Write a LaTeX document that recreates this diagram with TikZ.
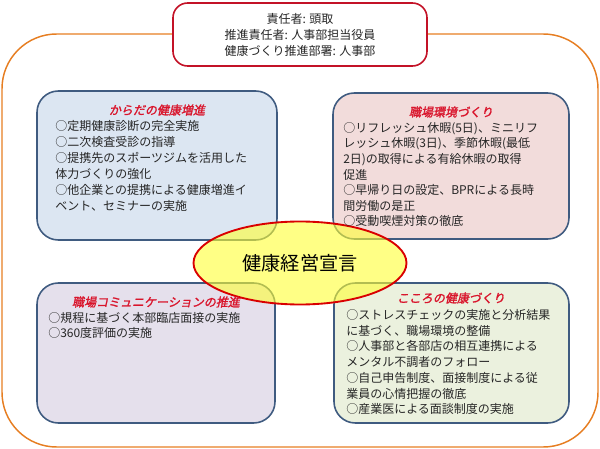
\documentclass[tikz,border=0pt]{standalone}
\usepackage{fontspec}
\setmainfont{Noto Sans CJK JP}
\newfontfamily\titlefont[FakeSlant=0.2,FakeBold=1.5]{Noto Sans CJK JP}
\usetikzlibrary{positioning, fit, shapes.geometric}
\definecolor{hmorange}{HTML}{E67E22}
\definecolor{hmred}{HTML}{D9142B}
\definecolor{hmslate}{HTML}{3F5B80}
\definecolor{hmtext}{HTML}{262626}
\definecolor{hmblue}{HTML}{DCE6F2}
\definecolor{hmpink}{HTML}{F2DCDB}
\definecolor{hmlilac}{HTML}{E5E0EC}
\definecolor{hmgreen}{HTML}{EBF1DE}
\definecolor{hmyellow}{HTML}{FFFF33}
\tikzset{
  area/.style={
    draw=hmslate, line width=1.2pt, rounded corners=16pt, inner sep=0pt},
  heading/.style={
    font=\titlefont\fontsize{9}{12}\selectfont, color=hmred, inner sep=0pt},
  items/.style={
    font=\fontsize{9}{12}\selectfont, color=hmtext, align=left,
    anchor=north west, inner sep=0pt},
}

\begin{document}
\begin{tikzpicture}[x=0.75pt, y=-0.75pt,
    lead/.style={draw=hmred!90!black, line width=1.2pt, fill=white,
      rounded corners=11pt, align=center, inner sep=0pt,
      font=\fontsize{9}{12}\selectfont, text=hmtext,
      minimum width=190.5pt, minimum height=47.25pt},
    pledge/.style={ellipse, draw=red!85!black, line width=1.4pt,
      fill=hmyellow, fill opacity=.6, text opacity=1, inner sep=0pt,
      minimum width=159.75pt, minimum height=62.25pt,
      font=\fontsize{14.4}{16}\selectfont}]
  \useasboundingbox (0,0) rectangle (600,449);
  % frame round everything
  \node[draw=hmorange, line width=1.1pt, rounded corners=41pt, inner sep=0pt,
        fit={(2,34)(598,447)}] (frame) {};
  \node[lead] (owner) at (300,34.5)
       {責任者: 頭取\\推進責任者: 人事部担当役員\\健康づくり推進部署: 人事部};
  % four fields
  \node[area, fill=hmblue,  fit={(37,91)(277,240)}]  (body)  {};
  \node[area, fill=hmpink,  fit={(333,93)(569,239)}] (place) {};
  \node[area, fill=hmlilac, fit={(37,283)(275,423)}] (talk)  {};
  \node[area, fill=hmgreen, fit={(334,283)(569,423)}] (mind) {};

  \node[pledge] (decl) at (300,263) {健康経営宣言};

  \node[heading] (body-t)  at (157,110) {からだの健康増進};
  \node[items]   (body-i)  at (55,120)
       {○定期健康診断の完全実施\\○二次検査受診の指導\\
        ○提携先のスポーツジムを活用した\\体力づくりの強化\\
        ○他企業との提携による健康増進イ\\ベント、セミナーの実施};
  \node[heading] (place-t) at (451,112) {職場環境づくり};
  \node[items, font=\fontsize{9}{11.7}\selectfont] (place-i) at (343,122)
       {○リフレッシュ休暇(5日)、ミニリフ\\レッシュ休暇(3日)、季節休暇(最低\\
        2日)の取得による有給休暇の取得\\促進\\
        ○早帰り日の設定、BPRによる長時\\間労働の是正\\○受動喫煙対策の徹底};
  \node[heading] (talk-t)  at (156,302) {職場コミュニケーションの推進};
  \node[items, font=\fontsize{9}{11.7}\selectfont] (talk-i) at (48,312)
       {○規程に基づく本部臨店面接の実施\\○360度評価の実施};
  \node[heading] (mind-t)  at (451,298) {こころの健康づくり};
  \node[items, font=\fontsize{9}{11.8}\selectfont] (mind-i) at (346,309)
       {○ストレスチェックの実施と分析結果\\に基づく、職場環境の整備\\
        ○人事部と各部店の相互連携による\\メンタル不調者のフォロー\\
        ○自己申告制度、面接制度による従\\業員の心情把握の徹底\\
        ○産業医による面談制度の実施};
\end{tikzpicture}
\end{document}
